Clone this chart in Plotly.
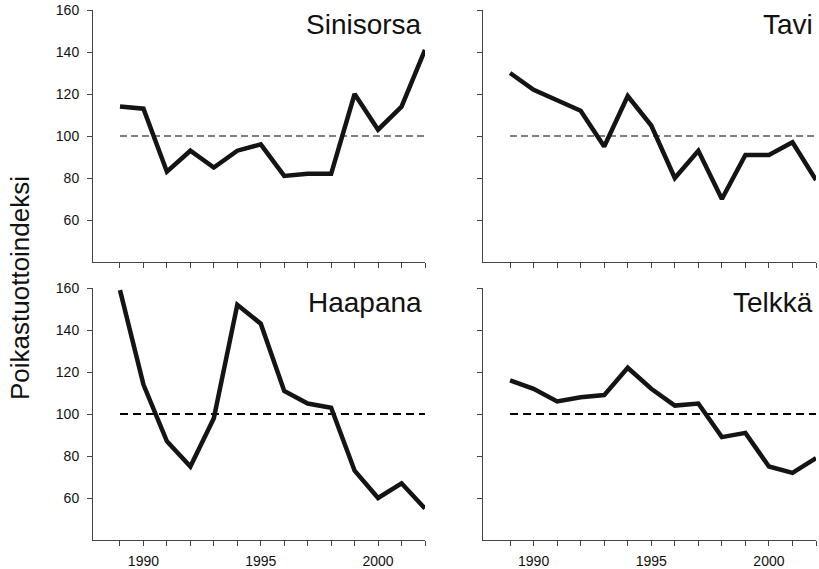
import plotly.graph_objects as go

years = list(range(1989, 2003))
sinisorsa = [114, 113, 83, 93, 85, 93, 96, 81, 82, 82, 120, 103, 114, 141]
tavi = [130, 122, 117, 112, 95, 119, 105, 80, 93, 70, 91, 91, 97, 79]
haapana = [159, 114, 87, 75, 98, 152, 143, 111, 105, 103, 73, 60, 67, 55]
telkka = [116, 112, 106, 108, 109, 122, 112, 104, 105, 89, 91, 75, 72, 79]
panel_names = ["Sinisorsa", "Tavi", "Haapana", "Telkkä"]
series = [sinisorsa, tavi, haapana, telkka]
baseline = 100
y_ticks = [60, 80, 100, 120, 140, 160]
x_label_years = [1990, 1995, 2000]
y_title = "Poikastuottoindeksi"

W, H = 819, 569
FONT = "Liberation Sans, Arial, Helvetica, sans-serif"
LINE = "#141414"
AX = "#444444"

# pixel boxes for panels: (left, right, top, bottom)
boxes = [(93, 425, 10, 262), (483, 816, 10, 262),
         (93, 425, 288, 540), (483, 816, 288, 540)]

fig = go.Figure()
layout = dict(
    width=W, height=H,
    margin=dict(l=0, r=0, t=0, b=0),
    paper_bgcolor="white", plot_bgcolor="white",
    showlegend=False,
    font=dict(family=FONT, color="#111111"),
    annotations=[],
)

for i, (name, vals, box) in enumerate(zip(panel_names, series, boxes)):
    idx = "" if i == 0 else str(i + 1)
    xa, ya = "x" + idx, "y" + idx
    l, r, t, b = box
    bottom_row = i >= 2
    left_col = i % 2 == 0
    fig.add_trace(go.Scatter(
        x=[years[0], years[-1]], y=[baseline, baseline], mode="lines",
        line=dict(color="#000000", width=2 if bottom_row else 1.2,
                  dash="8px,5px" if bottom_row else "7px,4px"),
        xaxis=xa, yaxis=ya, hoverinfo="skip"))
    fig.add_trace(go.Scatter(
        x=years, y=vals, mode="lines",
        line=dict(color=LINE, width=4.5), xaxis=xa, yaxis=ya))
    layout["xaxis" + idx] = dict(
        domain=[l / W, r / W], anchor=ya, range=[1987.85, 2002],
        tickmode="array", tickvals=years,
        ticktext=[str(y) if (bottom_row and y in x_label_years) else "" for y in years],
        ticks="outside", ticklen=5, tickcolor=AX, tickwidth=1,
        showline=True, linecolor=AX, linewidth=1,
        showgrid=False, zeroline=False, automargin=False,
        ticklabelstandoff=3,
        tickfont=dict(size=14, family=FONT, color="#111111"),
    )
    layout["yaxis" + idx] = dict(
        domain=[1 - b / H, 1 - t / H], anchor=xa, range=[40, 160],
        tickmode="array", tickvals=y_ticks,
        ticktext=[str(v) if left_col else "" for v in y_ticks],
        ticks="outside", ticklen=5, tickcolor=AX, tickwidth=1,
        showline=True, linecolor=AX, linewidth=1,
        showgrid=False, zeroline=False, automargin=False,
        ticklabelstandoff=5,
        tickfont=dict(size=14, family=FONT, color="#111111"),
    )
    layout["annotations"].append(dict(
        text=name, xref="paper", yref="paper",
        x=(r - 1) / W, y=1 - (t - 3) / H, xanchor="right", yanchor="top",
        showarrow=False, font=dict(size=28, family=FONT, color="#111111")))

layout["annotations"].append(dict(
    text=y_title, xref="paper", yref="paper", x=20 / W, y=1 - 288 / H,
    xanchor="center", yanchor="middle", textangle=-90, showarrow=False,
    font=dict(size=26, family=FONT, color="#111111")))

fig.update_layout(**layout)
fig.write_html("out.html", config={"displayModeBar": False},
               post_script="document.body.style.margin='0';document.body.style.overflow='hidden';")
